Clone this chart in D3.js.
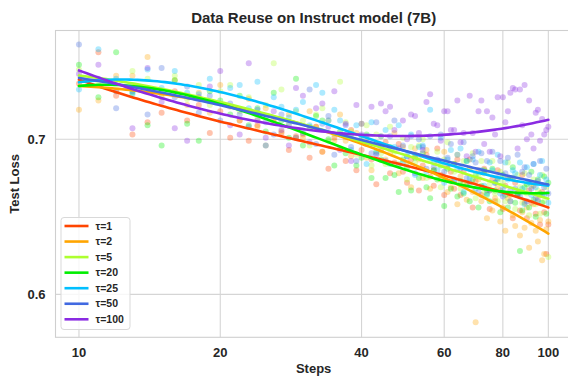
<!DOCTYPE html>
<html><head><meta charset="utf-8">
<script src="https://cdn.jsdelivr.net/npm/d3@7/dist/d3.min.js"></script>
<style>body{margin:0;background:#fff}svg{display:block}text{font-family:"Liberation Sans",Arial,sans-serif}</style>
</head><body>
<svg id="c" width="568" height="376"></svg>
<script>
const labels = ["τ=1","τ=2","τ=5","τ=20","τ=25","τ=50","τ=100"];
const colors = ["#ff4500","#ffa500","#adff2f","#00ee00","#00bfff","#4169e1","#8a2be2"];
const steps = d3.range(10, 101);
const xTicks = [10,20,40,60,80,100];
const yTicks = [0.6,0.7];

const tau1 = [.736,.756,.728,.703,.711,.717,.731,.712,.722,.704,.718,.701,.712,.699,.709,.696,.711,.704,.693,.702,
.703,.688,.708,.692,.681,.701,.694,.686,.706,.680,.693,.698,.687,.671,.693,.698,.678,.685,.697,.679,
.672,.687,.690,.667,.683,.690,.676,.670,.694,.677,.664,.683,.679,.668,.687,.664,.679,.670,.687,.656,
.673,.680,.664,.681,.667,.655,.674,.660,.680,.667,.655,.670,.675,.660,.649,.672,.665,.654,.677,.659,
.649,.667,.659,.670,.652,.661,.645,.666,.653,.626,.645];
const tau2 = [.719,.725,.741,.741,.753,.727,.738,.722,.730,.717,.735,.721,.712,.726,.708,.720,.713,.705,.716,.701,
.701,.718,.708,.692,.712,.699,.716,.699,.689,.704,.710,.688,.680,.697,.702,.687,.691,.704,.678,.695,
.685,.669,.694,.687,.675,.693,.668,.680,.686,.674,.692,.666,.669,.684,.658,.676,.672,.661,.681,.666,
.582,.674,.660,.678,.649,.667,.654,.662,.670,.647,.656,.641,.662,.664,.651,.644,.665,.638,.653,.643,
.656,.630,.646,.658,.641,.634,.648,.622,.626,.642,.647];
const tau5 = [.745,.737,.731,.744,.739,.729,.741,.726,.735,.722,.731,.735,.718,.727,.713,.722,.749,.732,.710,.718,
.712,.696,.716,.720,.699,.703,.737,.711,.705,.690,.700,.709,.683,.703,.691,.684,.708,.692,.684,.701,
.674,.695,.685,.696,.700,.675,.686,.680,.692,.669,.687,.698,.673,.679,.690,.668,.686,.672,.681,.691,
.662,.676,.686,.666,.679,.671,.686,.665,.660,.679,.672,.660,.685,.665,.675,.655,.677,.669,.659,.678,
.665,.651,.670,.674,.658,.667,.652,.677,.660,.669,.624];
const tau20 = [.748,.727,.756,.730,.709,.696,.738,.710,.699,.731,.725,.716,.728,.709,.720,.705,.730,.712,.701,.739,
.696,.708,.715,.712,.700,.683,.705,.691,.703,.683,.688,.703,.675,.692,.687,.675,.695,.677,.666,.687,
.682,.667,.688,.675,.691,.669,.662,.680,.674,.683,.657,.681,.668,.684,.663,.673,.665,.686,.660,.674,
.677,.656,.670,.680,.664,.660,.681,.667,.674,.653,.677,.664,.656,.675,.682,.659,.664,.628,.654,.669,
.671,.656,.679,.661,.650,.674,.665,.659,.676,.652,.672];
const tau25 = [.732,.758,.739,.729,.745,.733,.744,.730,.729,.739,.723,.733,.735,.720,.737,.696,.727,.721,.714,.719,
.724,.709,.735,.730,.712,.719,.712,.702,.693,.709,.702,.684,.711,.691,.702,.706,.684,.695,.709,.685,
.689,.703,.677,.695,.696,.679,.719,.685,.680,.701,.672,.687,.693,.674,.681,.694,.666,.686,.675,.687,
.668,.692,.680,.670,.665,.685,.680,.672,.690,.665,.668,.685,.674,.660,.680,.678,.664,.685,.668,.658,
.682,.672,.664,.684,.669,.660,.677,.686,.664,.674,.659];
const tau50 = [.761,.739,.720,.731,.716,.746,.727,.734,.717,.728,.712,.723,.716,.708,.719,.711,.703,.716,.709,.701,
.704,.732,.697,.710,.715,.690,.703,.709,.695,.686,.710,.702,.691,.711,.696,.686,.702,.712,.683,.696,
.689,.702,.678,.700,.695,.681,.702,.682,.687,.703,.679,.688,.697,.673,.690,.681,.698,.675,.672,.689,
.685,.666,.691,.679,.686,.667,.692,.672,.675,.686,.663,.678,.688,.667,.675,.668,.690,.663,.679,.682,
.660,.677,.668,.684,.662,.673,.686,.664,.669,.681,.665];
const tau100 = [.742,.748,.731,.707,.746,.724,.707,.699,.727,.734,.744,.709,.703,.749,.712,.701,.718,.706,.696,.733,
.728,.698,.720,.723,.708,.731,.693,.710,.686,.722,.703,.697,.721,.690,.723,.718,.721,.706,.694,.712,
.700,.716,.715,.704,.693,.724,.729,.710,.709,.699,.718,.718,.706,.706,.725,.698,.704,.689,.728,.704,
.692,.718,.725,.697,.718,.692,.714,.703,.727,.689,.727,.711,.718,.730,.733,.732,.694,.732,.709,.735,
.700,.725,.703,.694,.717,.719,.699,.713,.703,.706,.708];

// smooth-fit values
const fitSteps = [10,12,15,20,25,30,40,50,60,70,80,90,100];
const fit1   = [.737,.7305,.726,.709,.703,.698,.690,.6835,.677,.6715,.666,.6605,.6554];
const fit2   = [.7333,.7326,.732,.723,.714,.708,.697,.6865,.6755,.6655,.6564,.647,.6386];
const fit5   = [.7408,.7369,.7348,.724,.7155,.709,.698,.6895,.6825,.6765,.6705,.6655,.6612];
const fit20  = [.7348,.7337,.7333,.7208,.714,.7058,.689,.679,.673,.6695,.667,.6655,.6646];
const fit25  = [.738,.7369,.7365,.7298,.7245,.7155,.701,.6925,.6845,.6785,.674,.6715,.671];
const fit50  = [.738,.7359,.7337,.7219,.7127,.7069,.700,.6935,.6875,.6815,.6765,.6732,.6708];
const fit100 = [.7429,.736,.7309,.7144,.709,.706,.7026,.7026,.7037,.705,.7073,.7095,.7118];

const scatter = [tau1,tau2,tau5,tau20,tau25,tau50,tau100];
const fits = [fit1,fit2,fit5,fit20,fit25,fit50,fit100];

// cubic least-squares smoothing in log(step)
function polyfit(xs, ys, deg){
  const n = deg+1, A = [];
  for(let i=0;i<n;i++){ A.push(new Array(n+1).fill(0)); }
  xs.forEach((xv,k)=>{
    for(let i=0;i<n;i++){
      for(let j=0;j<n;j++) A[i][j]+=Math.pow(xv,i+j);
      A[i][n]+=ys[k]*Math.pow(xv,i);
    }
  });
  for(let i=0;i<n;i++){
    let p=i; for(let r=i+1;r<n;r++) if(Math.abs(A[r][i])>Math.abs(A[p][i])) p=r;
    [A[i],A[p]]=[A[p],A[i]];
    for(let r=0;r<n;r++){ if(r===i) continue; const f=A[r][i]/A[i][i];
      for(let c=i;c<=n;c++) A[r][c]-=f*A[i][c]; }
  }
  return A.map((row,i)=>row[n]/row[i]);
}

const svg = d3.select("#c");
const L = 55.5, T = 30.5, R = 571.8, B = 337.3;
const x = d3.scaleLog().domain([Math.pow(10,0.95), Math.pow(10,2.05)]).range([L, R]);
const y = d3.scaleLinear().domain([0.5723, 0.7701]).range([B, T]);

svg.append("defs").append("clipPath").attr("id","clip").append("rect")
  .attr("x",L).attr("y",T).attr("width",R-L).attr("height",B-T);

const g = svg.append("g");
g.selectAll(".gx").data(xTicks).join("line")
  .attr("x1",d=>x(d)).attr("x2",d=>x(d)).attr("y1",T).attr("y2",B)
  .attr("stroke","#d5d5d5").attr("stroke-width",1.1);
g.selectAll(".gy").data(yTicks).join("line")
  .attr("x1",L).attr("x2",R).attr("y1",d=>y(d)).attr("y2",d=>y(d))
  .attr("stroke","#d5d5d5").attr("stroke-width",1.1);
g.append("rect").attr("x",L).attr("y",T).attr("width",R-L).attr("height",B-T)
  .attr("fill","none").attr("stroke","#cfcfcf").attr("stroke-width",1.1);

const plot = svg.append("g").attr("clip-path","url(#clip)");
scatter.forEach((vals,i)=>{
  plot.append("g").selectAll("circle").data(vals).join("circle")
    .attr("cx",(d,j)=>x(steps[j])).attr("cy",d=>y(d)).attr("r",3)
    .attr("fill",colors[i]).attr("fill-opacity",0.32);
});
const sampleSteps = d3.range(0,121).map(k=>Math.pow(10, 1 + k/120));
const line = d3.line().x(d=>x(d[0])).y(d=>y(d[1]));
fits.forEach((vals,i)=>{
  const lx = fitSteps.map(s=>Math.log10(s));
  const c = polyfit(lx, vals, 3);
  const pts = sampleSteps.map(s=>{ const u=Math.log10(s); return [s, c[0]+c[1]*u+c[2]*u*u+c[3]*u*u*u]; });
  plot.append("path").datum(pts).attr("d",line).attr("fill","none")
    .attr("stroke",colors[i]).attr("stroke-width",2.6).attr("stroke-linecap","round");
});

const tc = "#262626";
svg.selectAll(".xt").data(xTicks).join("text")
  .attr("x",d=>x(d)).attr("y",357).attr("text-anchor","middle")
  .attr("font-size",13).attr("font-weight","bold").attr("fill",tc).text(d=>d);
svg.selectAll(".yt").data(yTicks).join("text")
  .attr("x",45.5).attr("y",d=>y(d)).attr("dy","0.35em").attr("text-anchor","end")
  .attr("font-size",13).attr("font-weight","bold").attr("fill",tc).text(d=>d3.format(".1f")(d));
svg.append("text").attr("x",(L+R)/2).attr("y",373).attr("text-anchor","middle")
  .attr("font-size",13).attr("font-weight","bold").attr("fill",tc).text("Steps");
svg.append("text").attr("transform",`translate(19,${(T+B)/2}) rotate(-90)`).attr("text-anchor","middle")
  .attr("font-size",13).attr("font-weight","bold").attr("fill",tc).text("Test Loss");
svg.append("text").attr("x",(L+R)/2).attr("y",23).attr("text-anchor","middle")
  .attr("font-size",15).attr("font-weight","bold").attr("fill",tc).text("Data Reuse on Instruct model (7B)");

const lg = svg.append("g");
lg.append("rect").attr("x",61).attr("y",217.5).attr("width",69).attr("height",112).attr("rx",3)
  .attr("fill","#fff").attr("fill-opacity",0.8).attr("stroke","#d9d9d9");
labels.forEach((lab,i)=>{
  const yy = 226 + i*15.55;
  lg.append("line").attr("x1",64.5).attr("x2",88.5).attr("y1",yy).attr("y2",yy)
    .attr("stroke",colors[i]).attr("stroke-width",2.6);
  lg.append("text").attr("x",95.5).attr("y",yy).attr("dy","0.35em")
    .attr("font-size",10.5).attr("font-weight","bold").attr("fill",tc).text(lab);
});
</script>
</body></html>
